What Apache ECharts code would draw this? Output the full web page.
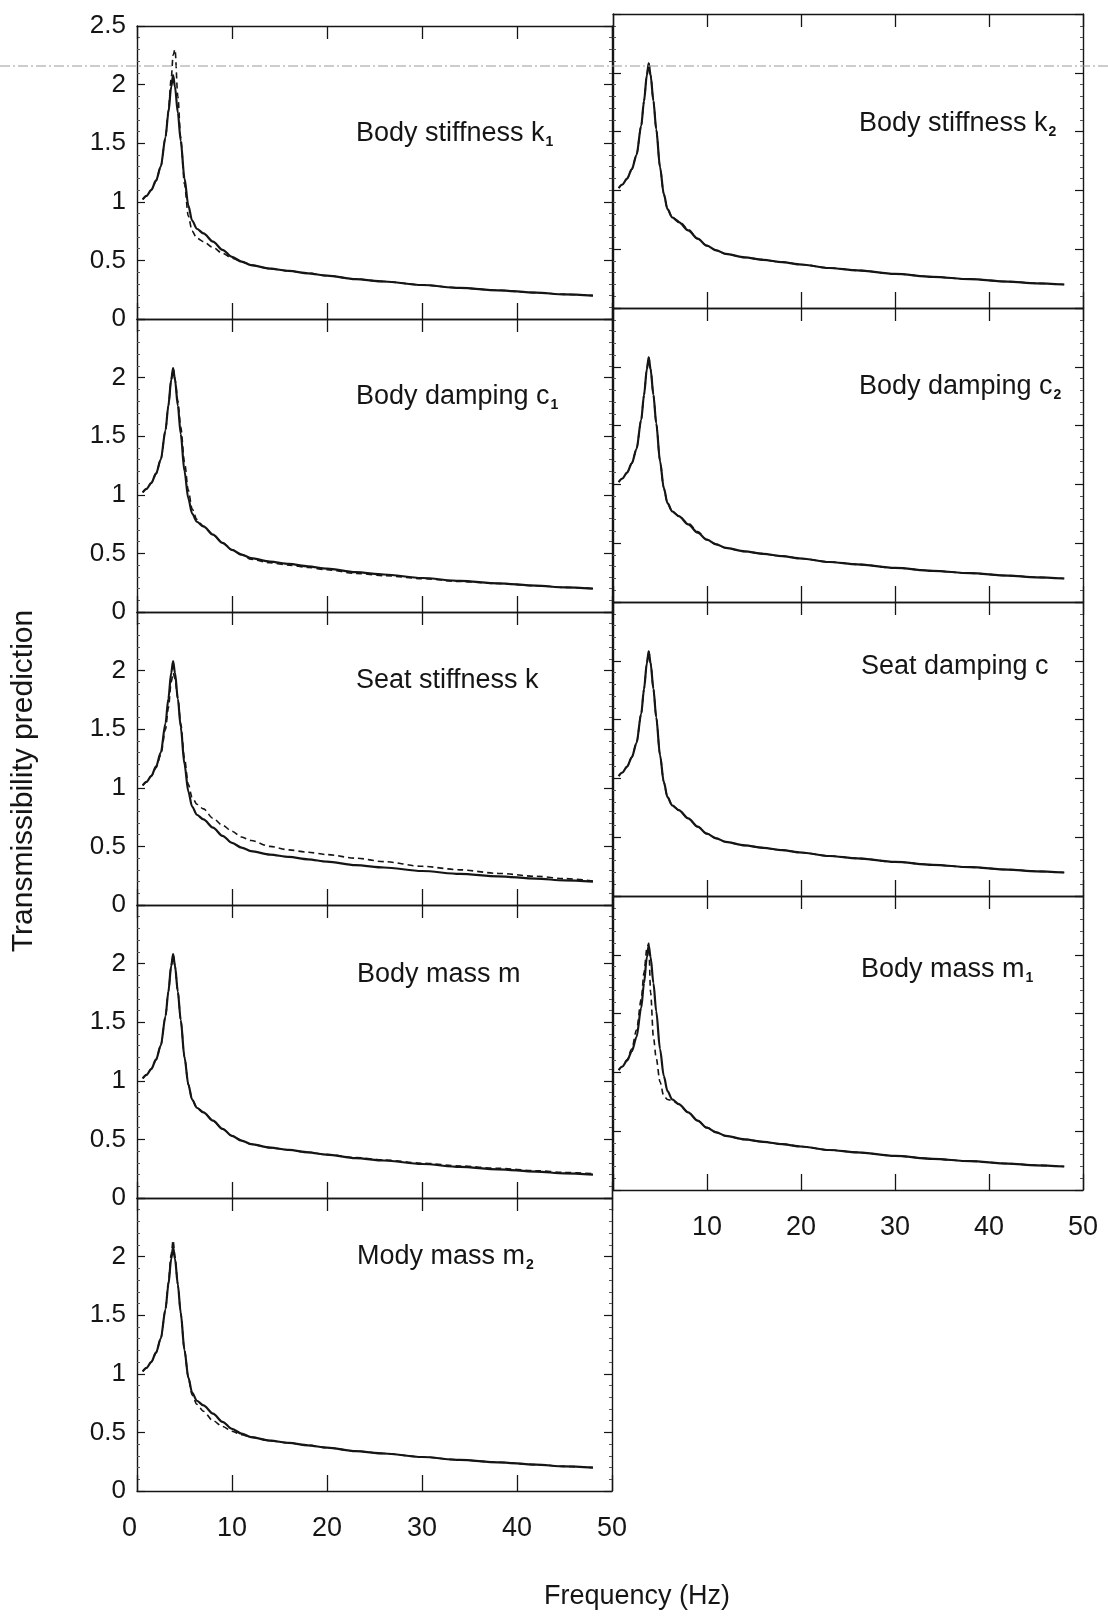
<!DOCTYPE html>
<html>
<head>
<meta charset="utf-8">
<script src="https://cdn.jsdelivr.net/npm/echarts@6/dist/echarts.min.js"></script>
<style>
  html, body { margin: 0; padding: 0; background: #fff; }
  #chart { width: 1108px; height: 1618px; }
</style>
</head>
<body>
<div id="chart"></div>
<script>
// ---------- DATA ----------
const freq = [0.6, 1, 1.5, 2, 2.5, 3, 3.3, 3.6, 3.8, 4.0, 4.3, 4.6, 5.0, 5.4, 5.8, 6.3, 7, 8, 9, 10, 11, 12, 14, 16, 18, 20, 23, 26, 30, 34, 38, 42, 45, 48];

// nominal model (solid line, same in every panel)
const nominal = [1.02, 1.05, 1.10, 1.18, 1.30, 1.55, 1.76, 1.98, 2.08, 1.98, 1.76, 1.52, 1.20, 0.97, 0.84, 0.77, 0.73, 0.66, 0.59, 0.53, 0.49, 0.46, 0.43, 0.41, 0.39, 0.37, 0.34, 0.32, 0.29, 0.265, 0.245, 0.225, 0.21, 0.20];

// modified parameter (dashed line), one per panel
const dashK1 = [1.02, 1.05, 1.10, 1.18, 1.30, 1.55, 1.78, 2.05, 2.25, 2.30, 1.90, 1.55, 1.15, 0.88, 0.75, 0.69, 0.66, 0.61, 0.56, 0.52, 0.49, 0.46, 0.43, 0.41, 0.39, 0.37, 0.34, 0.32, 0.29, 0.265, 0.245, 0.225, 0.21, 0.20];
const dashK2 = [1.02, 1.05, 1.10, 1.18, 1.30, 1.55, 1.76, 1.98, 2.08, 1.98, 1.76, 1.52, 1.20, 0.97, 0.84, 0.77, 0.74, 0.67, 0.59, 0.53, 0.49, 0.46, 0.43, 0.41, 0.39, 0.37, 0.34, 0.32, 0.29, 0.265, 0.245, 0.225, 0.21, 0.20];
const dashC1 = [1.02, 1.05, 1.10, 1.18, 1.30, 1.55, 1.76, 1.98, 2.08, 1.99, 1.80, 1.58, 1.28, 1.04, 0.88, 0.79, 0.73, 0.66, 0.59, 0.53, 0.49, 0.45, 0.42, 0.40, 0.38, 0.36, 0.33, 0.31, 0.285, 0.26, 0.243, 0.224, 0.21, 0.20];
const dashC2 = [1.02, 1.05, 1.10, 1.18, 1.30, 1.55, 1.76, 1.98, 2.08, 1.98, 1.76, 1.52, 1.20, 0.97, 0.84, 0.77, 0.73, 0.67, 0.60, 0.53, 0.49, 0.46, 0.43, 0.41, 0.39, 0.37, 0.34, 0.32, 0.29, 0.265, 0.245, 0.225, 0.21, 0.20];
const dashK  = [1.02, 1.05, 1.10, 1.17, 1.28, 1.50, 1.68, 1.90, 1.98, 1.93, 1.76, 1.55, 1.25, 1.03, 0.92, 0.86, 0.82, 0.74, 0.68, 0.63, 0.58, 0.55, 0.50, 0.47, 0.45, 0.43, 0.40, 0.37, 0.33, 0.30, 0.27, 0.245, 0.225, 0.205];
const dashC  = [1.02, 1.05, 1.10, 1.18, 1.30, 1.55, 1.76, 1.98, 2.08, 1.98, 1.76, 1.52, 1.20, 0.97, 0.84, 0.77, 0.73, 0.66, 0.59, 0.53, 0.49, 0.46, 0.43, 0.41, 0.39, 0.37, 0.34, 0.32, 0.29, 0.265, 0.245, 0.225, 0.21, 0.20];
const dashM  = [1.02, 1.05, 1.10, 1.18, 1.30, 1.55, 1.76, 1.98, 2.08, 1.98, 1.76, 1.52, 1.20, 0.97, 0.84, 0.77, 0.73, 0.66, 0.59, 0.53, 0.49, 0.46, 0.43, 0.41, 0.39, 0.37, 0.345, 0.325, 0.297, 0.273, 0.253, 0.233, 0.218, 0.208];
const dashM1 = [1.02, 1.05, 1.11, 1.20, 1.36, 1.62, 1.85, 2.05, 2.10, 1.68, 1.30, 1.12, 0.92, 0.80, 0.77, 0.76, 0.73, 0.66, 0.59, 0.53, 0.49, 0.46, 0.43, 0.41, 0.39, 0.37, 0.34, 0.32, 0.29, 0.265, 0.245, 0.225, 0.21, 0.20];
const dashM2 = [1.02, 1.05, 1.10, 1.18, 1.30, 1.55, 1.78, 2.02, 2.14, 2.00, 1.76, 1.52, 1.20, 0.97, 0.82, 0.74, 0.68, 0.60, 0.55, 0.51, 0.48, 0.46, 0.43, 0.41, 0.39, 0.37, 0.34, 0.32, 0.29, 0.265, 0.245, 0.225, 0.21, 0.20];

const xTicks = [0, 10, 20, 30, 40, 50];
const yTicks = [0, 0.5, 1, 1.5, 2, 2.5];

// panel labels: [main text, subscript]
const panelNames = [
  ['Body stiffness k', '1'], ['Body damping c', '1'], ['Seat stiffness k', ''], ['Body mass m', ''], ['Mody mass m', '2'],
  ['Body stiffness k', '2'], ['Body damping c', '2'], ['Seat damping c', ''], ['Body mass m', '1']
];
const panelDashed = [dashK1, dashC1, dashK, dashM, dashM2, dashK2, dashC2, dashC, dashM1];

// ---------- LAYOUT ----------
const FONT = "'Liberation Sans', Arial, sans-serif";
const INK = '#151515';
const panels = [];
for (let i = 0; i < 5; i++) panels.push({ left: 137, width: 475, top: 26 + 293 * i, height: 293, col: 0, row: i });
for (let i = 0; i < 4; i++) panels.push({ left: 613, width: 470, top: 14 + 294 * i, height: 294, col: 1, row: i });

const titlePos = [
  [356, 119], [356, 382], [356, 666], [357, 960], [357, 1242],
  [859, 109], [859, 372], [861, 652], [861, 955]
];

const grids = [], xAxes = [], yAxes = [], series = [], titles = [];
const axisLineStyle = { color: INK, width: 1.4 };

panels.forEach((p, i) => {
  grids.push({ left: p.left, top: p.top, width: p.width, height: p.height, containLabel: false });
  const isBottomLeft = (p.col === 0 && p.row === 4);
  const isBottomRight = (p.col === 1 && p.row === 3);
  const showX = isBottomLeft || isBottomRight;
  xAxes.push({
    type: 'value', gridIndex: i, position: 'bottom', min: xTicks[0], max: xTicks[xTicks.length - 1], interval: 10,
    axisLine: { show: true, onZero: false, lineStyle: axisLineStyle },
    axisTick: { show: true, inside: true, length: 16, lineStyle: { color: INK, width: 1.3 } },
    splitLine: { show: false },
    axisLabel: {
      show: showX, margin: 24, fontSize: 27, color: INK, fontFamily: FONT,
      alignMinLabel: 'right',
      formatter: v => (isBottomRight && v === 0) ? '' : String(v)
    }
  });
  xAxes.push({
    type: 'value', gridIndex: i, position: 'top', min: xTicks[0], max: xTicks[xTicks.length - 1], interval: 10,
    axisLine: { show: true, onZero: false, lineStyle: axisLineStyle },
    axisTick: { show: true, inside: true, length: 13, lineStyle: { color: INK, width: 1.3 } },
    splitLine: { show: false },
    axisLabel: { show: false }
  });
  yAxes.push({
    type: 'value', gridIndex: i, position: 'left', min: yTicks[0], max: yTicks[yTicks.length - 1], interval: 0.5,
    axisLine: { show: true, onZero: false, lineStyle: axisLineStyle },
    axisTick: { show: true, inside: true, length: 8, lineStyle: { color: INK, width: 1.2 } },
    minorTick: { show: true, splitNumber: 5, length: 3, lineStyle: { color: '#555', width: 1 } },
    splitLine: { show: false },
    axisLabel: {
      show: p.col === 0, margin: 11, fontSize: 26, color: INK, fontFamily: FONT,
      formatter: v => (p.row > 0 && v === 2.5) ? '' : String(v)
    }
  });
  yAxes.push({
    type: 'value', gridIndex: i, position: 'right', min: yTicks[0], max: yTicks[yTicks.length - 1], interval: 0.5,
    axisLine: { show: true, onZero: false, lineStyle: axisLineStyle },
    axisTick: { show: true, inside: true, length: 8, lineStyle: { color: INK, width: 1.2 } },
    minorTick: { show: true, splitNumber: 5, length: 3, lineStyle: { color: '#555', width: 1 } },
    splitLine: { show: false },
    axisLabel: { show: false }
  });
  const dashed = panelDashed[i];
  series.push({
    type: 'line', xAxisIndex: 2 * i, yAxisIndex: 2 * i, showSymbol: false, silent: true,
    smooth: 0.3, smoothMonotone: 'x',
    lineStyle: { color: INK, width: 1.6, type: [6, 4] },
    data: freq.map((f, k) => [f, dashed[k]])
  });
  series.push({
    type: 'line', xAxisIndex: 2 * i, yAxisIndex: 2 * i, showSymbol: false, silent: true,
    smooth: 0.3, smoothMonotone: 'x',
    lineStyle: { color: INK, width: 2.2 },
    data: freq.map((f, k) => [f, nominal[k]])
  });
  const nm = panelNames[i];
  titles.push({
    text: nm[1] ? '{m|' + nm[0] + '}{s|' + nm[1] + '}' : '{m|' + nm[0] + '}',
    left: titlePos[i][0], top: titlePos[i][1], padding: 0,
    textStyle: {
      rich: {
        m: { fontSize: 27, fontFamily: FONT, color: INK, fontWeight: 'normal', lineHeight: 30 },
        s: { fontSize: 14, fontFamily: FONT, color: INK, verticalAlign: 'bottom', lineHeight: 14, padding: [0, 0, 0, 1] }
      }
    }
  });
});

const chart = echarts.init(document.getElementById('chart'), null, { renderer: 'canvas' });
chart.setOption({
  backgroundColor: '#ffffff',
  animation: false,
  title: titles,
  grid: grids,
  xAxis: xAxes,
  yAxis: yAxes,
  series: series,
  graphic: [
    {
      type: 'line', silent: true, z: 100,
      shape: { x1: 0, y1: 66, x2: 1108, y2: 66 },
      style: { stroke: '#9a9a9a', lineWidth: 1, lineDash: [10, 3, 2, 3] }
    },
    {
      type: 'text', silent: true, x: 24, y: 781, rotation: Math.PI / 2,
      style: { text: 'Transmissibility prediction', fontSize: 30, fontFamily: FONT, fill: INK, textAlign: 'center', textVerticalAlign: 'middle' }
    },
    {
      type: 'text', silent: true, x: 637, y: 1597,
      style: { text: 'Frequency (Hz)', fontSize: 27, fontFamily: FONT, fill: INK, textAlign: 'center', textVerticalAlign: 'middle' }
    }
  ]
});
</script>
</body>
</html>
